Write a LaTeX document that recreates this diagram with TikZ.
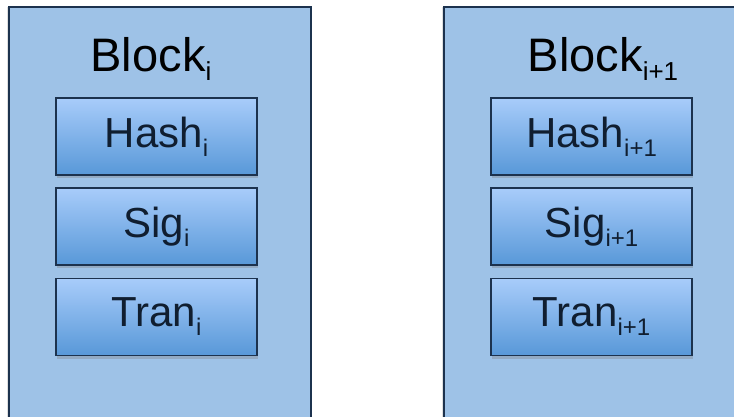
\documentclass[tikz,border=0pt]{standalone}
\usepackage{fontspec}
\setmainfont{Liberation Sans}
\usetikzlibrary{shadows}
\definecolor{outerfill}{RGB}{158,194,231}
\definecolor{edge}{RGB}{28,50,78}
\definecolor{innertop}{RGB}{168,204,250}
\definecolor{innerbot}{RGB}{88,152,216}
\definecolor{txt}{RGB}{16,30,48}
\newcommand{\blksub}[1]{\raisebox{-9pt}{\fontsize{26}{26}\selectfont #1}}
\newcommand{\inrsub}[1]{\raisebox{-9pt}{\fontsize{24}{24}\selectfont #1}}
\tikzset{
  outerblk/.style={draw=edge, line width=1.6pt, fill=outerfill, rectangle, anchor=north west,
    inner sep=0pt, drop shadow={shadow xshift=-2pt, shadow yshift=0pt, opacity=0.25}},
  field/.style={draw=edge, line width=1.6pt, rectangle, top color=innertop, bottom color=innerbot,
    minimum width=201pt, minimum height=77pt, inner sep=0pt, text=txt,
    font=\fontsize{42}{42}\selectfont,
    drop shadow={shadow xshift=1pt, shadow yshift=-3pt, opacity=0.35}},
  title/.style={text=black, font=\fontsize{47}{47}\selectfont, inner sep=0pt, anchor=base}
}
\begin{document}
\begin{tikzpicture}[x=1pt,y=-1pt]
\useasboundingbox (0,0) rectangle (734,416);
\clip (0,0) rectangle (734,416);
\node[outerblk, minimum width=302pt, minimum height=440pt] (blkA) at (8,6) {};
\node[outerblk, minimum width=320pt, minimum height=440pt] (blkB) at (443,6) {};
\node[title] (titleA) at (151,71) {Block\blksub{i}};
\node[title] (titleB) at (603,71) {Block\blksub{i+1}};
\node[field] (hashA) at (156.5,136.5) {Hash\inrsub{i}};
\node[field] (sigA) at (156.5,226.5) {Sig\inrsub{i}};
\node[field] (tranA) at (156.5,317) {Tran\inrsub{i}};
\node[field] (hashB) at (591.5,136.5) {Hash\inrsub{i+1}};
\node[field] (sigB) at (591.5,226.5) {Sig\inrsub{i+1}};
\node[field] (tranB) at (591.5,317) {Tran\inrsub{i+1}};
\end{tikzpicture}
\end{document}
